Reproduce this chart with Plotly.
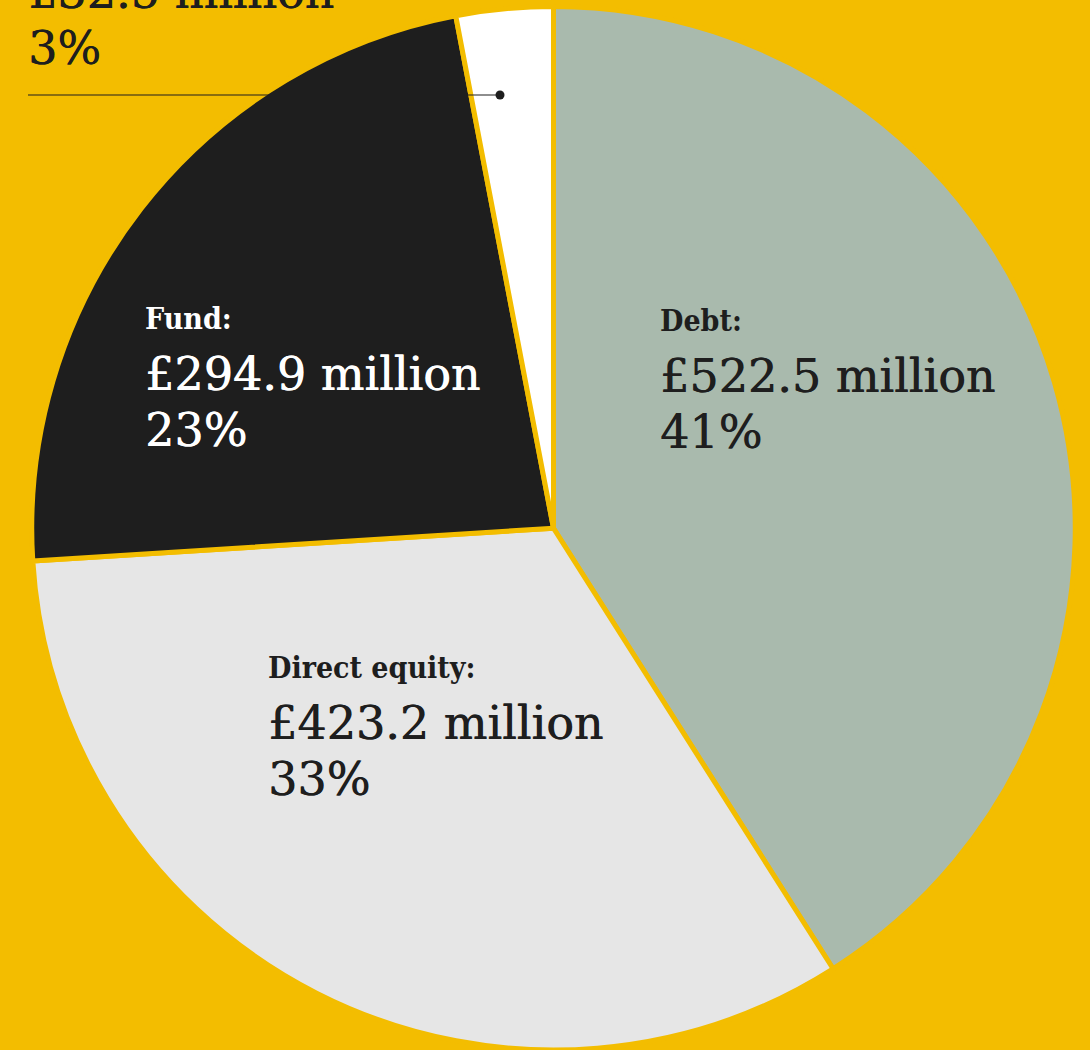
import plotly.graph_objects as go

# Investment mix by instrument type
categories = ["Debt", "Direct equity", "Fund", "Other"]
amounts_m = [522.5, 423.2, 294.9, 32.5]      # £ million
shares_pct = [41, 33, 23, 3]                 # share of total, %
slice_colors = ["#A9BAAD", "#E6E6E6", "#1E1E1E", "#FFFFFF"]
text_colors = ["#1E1E1E", "#1E1E1E", "#FFFFFF", "#1E1E1E"]

BG = "#F3BD00"
INK = "#1E1E1E"
HEAD_FONT = "DejaVu Serif Condensed, DejaVu Serif, serif"
BODY_FONT = "DejaVu Serif, serif"
W, H = 1090, 1050

fig = go.Figure(
    go.Pie(
        labels=categories,
        values=shares_pct,
        customdata=amounts_m,
        sort=False,
        direction="clockwise",
        rotation=0,
        marker=dict(colors=slice_colors, line=dict(color=BG, width=5)),
        textinfo="none",
        hovertemplate="%{label}: £%{customdata} million<br>%{value}%<extra></extra>",
        showlegend=False,
        domain=dict(x=[30.5 / W, 1076.5 / W], y=[0, 1 - 6.5 / H]),
    )
)

# label blocks: left edge x, centre y of the heading line (pixels from top)
label_pos = {
    "Debt": (658, 320),
    "Fund": (143, 318),
    "Direct equity": (266, 667),
    "Other": (26, -64),
}
LINE_GAP = 56


def px(x, y):
    return x / W, 1 - y / H


annotations = []
for cat, amt, pct, tc in zip(categories, amounts_m, shares_pct, text_colors):
    x0, y0 = label_pos[cat]
    color = INK if cat == "Other" else tc
    thicken = f"0.6px 0 0 {color}"
    lines = [
        (f"<b>{cat}:</b>", HEAD_FONT, 30, y0, "none"),
        (f"£{amt:.1f} million", BODY_FONT, 46, y0 + LINE_GAP, thicken),
        (f"{pct}%", BODY_FONT, 46, y0 + 2 * LINE_GAP, thicken),
    ]
    for txt, fam, size, yy, shadow in lines:
        ax, ay = px(x0, yy)
        annotations.append(
            dict(
                text=txt, x=ax, y=ay, xref="paper", yref="paper",
                xanchor="left", yanchor="middle", showarrow=False,
                font=dict(family=fam, size=size, color=color, shadow=shadow),
            )
        )

# leader line from the small slice to its label
LEAD_Y, LEAD_X0, LEAD_X1, DOT_R = 95, 28, 500, 4.5
lx0, ly = px(LEAD_X0, LEAD_Y)
lx1, _ = px(LEAD_X1, LEAD_Y)
shapes = [
    dict(type="line", xref="paper", yref="paper", x0=lx0, x1=lx1, y0=ly, y1=ly,
         line=dict(color=INK, width=1.2)),
    dict(type="circle", xref="paper", yref="paper",
         x0=(LEAD_X1 - DOT_R) / W, x1=(LEAD_X1 + DOT_R) / W,
         y0=1 - (LEAD_Y + DOT_R) / H, y1=1 - (LEAD_Y - DOT_R) / H,
         fillcolor=INK, line=dict(width=0)),
]

fig.update_layout(
    width=W, height=H,
    margin=dict(l=0, r=0, t=0, b=0),
    paper_bgcolor=BG, plot_bgcolor=BG,
    annotations=annotations, shapes=shapes,
)

fig.write_html("out.html")
